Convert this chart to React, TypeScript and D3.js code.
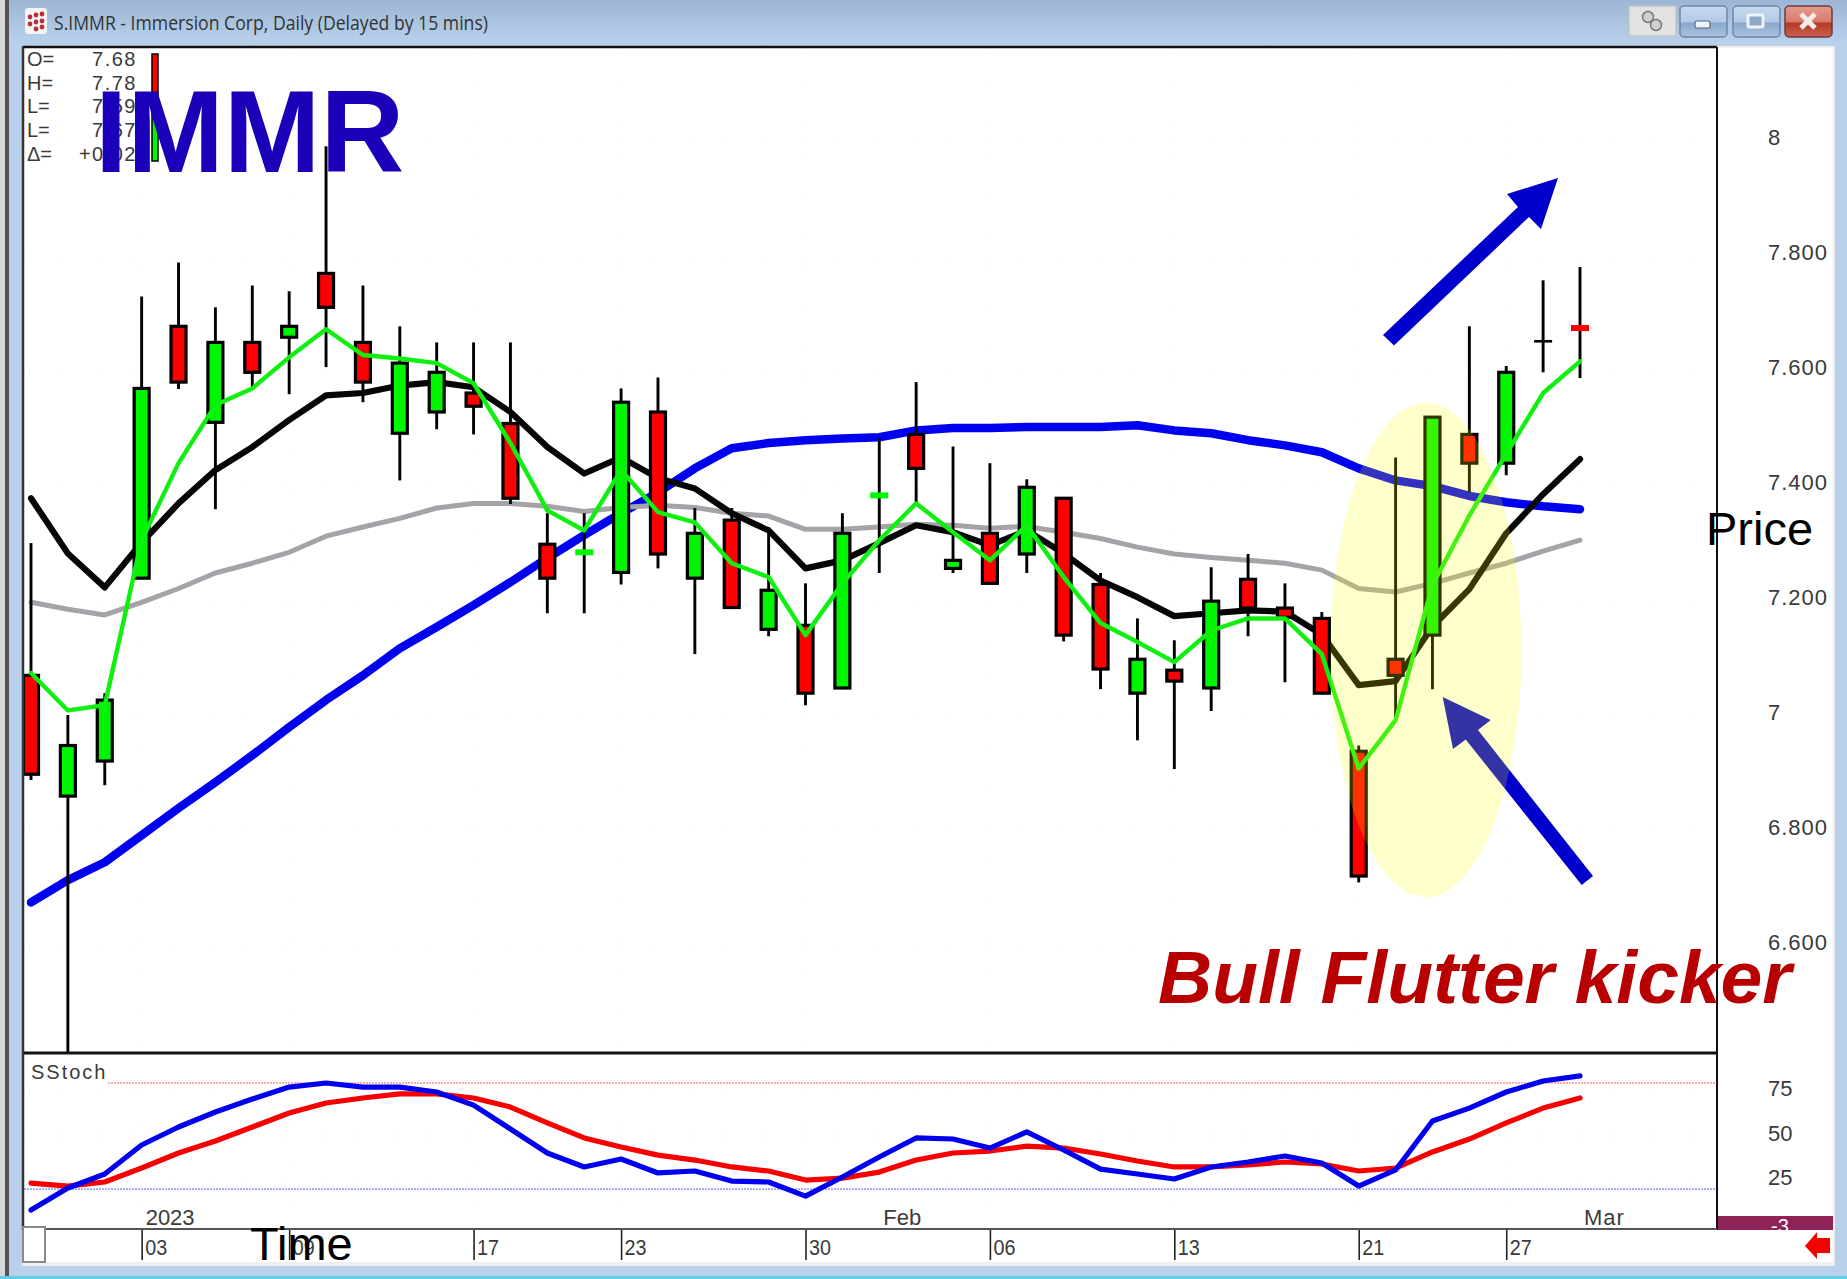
import React, { useEffect, useRef } from "react";
import * as d3 from "d3";

const W = 1847;
const H = 1279;

// trading days, Dec 28 2022 -> Mar 1 2023
const days = [
  "12-28", "12-29", "12-30", "01-03", "01-04", "01-05", "01-06", "01-09", "01-10", "01-11", "01-12",
  "01-13", "01-17", "01-18", "01-19", "01-20", "01-23", "01-24", "01-25", "01-26", "01-27", "01-30",
  "01-31", "02-01", "02-02", "02-03", "02-06", "02-07", "02-08", "02-09", "02-10", "02-13", "02-14",
  "02-15", "02-16", "02-17", "02-21", "02-22", "02-23", "02-24", "02-27", "02-28", "03-01",
];

const opens = [
  7.071, 6.861, 6.922, 7.24, 7.678, 7.511, 7.65, 7.659, 7.77, 7.65, 7.492,
  7.529, 7.562, 7.509, 7.299, 7.282, 7.25, 7.529, 7.24, 7.341, 7.151, 7.158,
  7.049, 7.381, 7.49, 7.257, 7.318, 7.282, 7.379, 7.229, 7.04, 7.08, 7.049,
  7.238, 7.188, 7.17, 6.939, 7.099, 7.141, 7.49, 7.44, 7.652, 7.678,
];
const highs = [
  7.301, 7.002, 7.04, 7.73, 7.789, 7.711, 7.749, 7.739, 7.991, 7.749, 7.678,
  7.65, 7.65, 7.65, 7.353, 7.353, 7.57, 7.589, 7.362, 7.362, 7.329, 7.231,
  7.353, 7.483, 7.581, 7.469, 7.44, 7.412, 7.379, 7.249, 7.17, 7.132, 7.259,
  7.282, 7.231, 7.181, 6.949, 7.45, 7.52, 7.678, 7.609, 7.758, 7.781,
];
const lows = [
  6.889, 6.4, 6.88, 7.24, 7.569, 7.36, 7.572, 7.56, 7.607, 7.546, 7.41,
  7.499, 7.49, 7.369, 7.179, 7.179, 7.229, 7.257, 7.108, 7.189, 7.139, 7.019,
  7.049, 7.249, 7.372, 7.249, 7.231, 7.249, 7.13, 7.047, 6.958, 6.908, 7.009,
  7.139, 7.059, 7.04, 6.711, 6.995, 7.047, 7.389, 7.419, 7.598, 7.588,
];
const closes = [
  6.899, 6.949, 7.028, 7.57, 7.581, 7.65, 7.598, 7.678, 7.711, 7.581, 7.614,
  7.598, 7.539, 7.379, 7.24, 7.288, 7.546, 7.282, 7.318, 7.189, 7.219, 7.04,
  7.318, 7.387, 7.431, 7.271, 7.231, 7.398, 7.141, 7.082, 7.099, 7.061, 7.2,
  7.188, 7.172, 7.04, 6.722, 7.071, 7.52, 7.44, 7.598, 7.652, 7.672,
];

const maBlack = [
  7.379, 7.283, 7.224, 7.302, 7.37, 7.428, 7.468, 7.515, 7.558, 7.562, 7.575,
  7.581, 7.572, 7.529, 7.468, 7.422, 7.45, 7.414, 7.396, 7.353, 7.323, 7.257,
  7.271, 7.301, 7.332, 7.32, 7.297, 7.323, 7.283, 7.236, 7.207, 7.174, 7.179,
  7.184, 7.182, 7.142, 7.054, 7.061, 7.156, 7.221, 7.318, 7.386, 7.447,
];
const maGrey = [
  7.198, 7.186, 7.176, 7.198, 7.222, 7.249, 7.266, 7.285, 7.313, 7.329, 7.344,
  7.362, 7.37, 7.37, 7.365, 7.356, 7.363, 7.367, 7.363, 7.353, 7.348, 7.325,
  7.325, 7.329, 7.334, 7.332, 7.327, 7.33, 7.32, 7.309, 7.294, 7.282, 7.276,
  7.271, 7.266, 7.254, 7.222, 7.216, 7.231, 7.249, 7.266, 7.287, 7.306,
];
const maBlue = [
  6.676, 6.715, 6.746, 6.793, 6.84, 6.885, 6.932, 6.981, 7.028, 7.071, 7.118,
  7.155, 7.193, 7.233, 7.275, 7.315, 7.353, 7.389, 7.431, 7.466, 7.475, 7.48,
  7.483, 7.485, 7.497, 7.501, 7.501, 7.503, 7.503, 7.503, 7.506, 7.497, 7.492,
  7.48, 7.471, 7.459, 7.431, 7.41, 7.4, 7.383, 7.372, 7.365, 7.36,
];
const maGreen = [
  7.075, 7.01, 7.019, 7.306, 7.44, 7.541, 7.57, 7.624, 7.673, 7.628, 7.622,
  7.614, 7.579, 7.475, 7.358, 7.323, 7.428, 7.355, 7.337, 7.266, 7.242, 7.141,
  7.231, 7.306, 7.37, 7.32, 7.271, 7.332, 7.242, 7.162, 7.129, 7.094, 7.149,
  7.17, 7.17, 7.108, 6.909, 6.993, 7.228, 7.349, 7.456, 7.562, 7.617,
];

const stochBlue = [
  8.1, 20.6, 28.5, 44.9, 55.1, 63.6, 70.9, 77.7, 80, 77.7, 77.7,
  74.9, 67.5, 54, 40.4, 32.5, 37, 29.1, 30.2, 24.5, 24, 16,
  26.8, 38.1, 48.9, 48.3, 43.2, 52.3, 42.1, 31.3, 28.5, 25.7, 32.5,
  35.3, 38.7, 34.7, 21.7, 30.8, 58.5, 65.8, 74.9, 81.1, 84,
];
const stochRed = [
  23.4, 21.7, 24, 31.9, 40.4, 47.2, 55.1, 63, 68.7, 71.5, 73.8,
  73.8, 71.5, 66.4, 57.4, 48.9, 43.8, 39.2, 36.4, 32.5, 30.2, 25.1,
  26.2, 29.6, 36.4, 40.4, 41.5, 44.3, 43.2, 39.8, 35.9, 32.5, 32.5,
  33.6, 35.3, 34.2, 30.2, 31.9, 41, 48.3, 57.4, 65.8, 71.5,
];

const priceTicks = [8, 7.8, 7.6, 7.4, 7.2, 7, 6.8, 6.6];
const stochTicks = [75, 50, 25];
const dayTicks = ["01-03", "01-09", "01-17", "01-23", "01-30", "02-06", "02-13", "02-21", "02-27"];
const dayTickLabels = ["03", "09", "17", "23", "30", "06", "13", "21", "27"];
const monthDays = ["01-03", "02-01", "03-01"];
const monthLabels = ["2023", "Feb", "Mar"];
const quoteNames = ["O=", "H=", "L=", "L=", "Δ="];
const quoteValues = ["7.68", "7.78", "7.59", "7.67", "+0.02"];

const SANS = "'Liberation Sans', Arial, sans-serif";
const INK = "#3a3a3a";

const App = () => {
  const ref = useRef<SVGSVGElement>(null);

  useEffect(() => {
    document.body.style.margin = "0";
    const svg = d3.select(ref.current);
    svg.selectAll("*").remove();

    const left = 24, right = 1717, top = 48, split = 1052, bottom = 1229;

    const x = d3.scalePoint<string>().domain(days).range([31, 1580]);
    const y = d3.scaleLinear().domain([8.162, 6.416]).range([top, split]);
    const ys = d3.scaleLinear().domain([96.4, -2.6]).range([1054, bottom]);

    const defs = svg.append("defs");
    const grad = defs.append("linearGradient").attr("id", "bar").attr("x2", 0).attr("y2", 1);
    grad.append("stop").attr("offset", 0).attr("stop-color", "#9cb6d4");
    grad.append("stop").attr("offset", 1).attr("stop-color", "#bad2ec");
    defs.append("clipPath").attr("id", "pricePane").append("rect")
      .attr("x", left).attr("y", top).attr("width", right - left).attr("height", split - top);
    const redBtn = defs.append("linearGradient").attr("id", "closeBtn").attr("x2", 0).attr("y2", 1);
    redBtn.append("stop").attr("offset", 0).attr("stop-color", "#e59a8e");
    redBtn.append("stop").attr("offset", 0.5).attr("stop-color", "#d77a6c");
    redBtn.append("stop").attr("offset", 0.55).attr("stop-color", "#b83a24");
    redBtn.append("stop").attr("offset", 1).attr("stop-color", "#c8604e");
    const blueBtn = defs.append("linearGradient").attr("id", "winBtn").attr("x2", 0).attr("y2", 1);
    blueBtn.append("stop").attr("offset", 0).attr("stop-color", "#c6daf0");
    blueBtn.append("stop").attr("offset", 0.5).attr("stop-color", "#b4cbe6");
    blueBtn.append("stop").attr("offset", 0.55).attr("stop-color", "#8aa8cb");
    blueBtn.append("stop").attr("offset", 1).attr("stop-color", "#a9c3e1");

    // window frame
    svg.append("rect").attr("width", W).attr("height", H).attr("fill", "#b9d0ea");
    svg.append("rect").attr("width", W).attr("height", 46).attr("fill", "url(#bar)");
    svg.append("rect").attr("x", 0).attr("width", 5).attr("height", H).attr("fill", "#d8d8d8");
    svg.append("rect").attr("x", 5).attr("width", 4).attr("height", H).attr("fill", "#555");
    svg.append("rect").attr("x", 0).attr("y", 1276).attr("width", W).attr("height", 3).attr("fill", "#5fcfe6");
    svg.append("rect").attr("x", 22).attr("y", 46).attr("width", 1813).attr("height", 1220).attr("fill", "#eeeeee");
    svg.append("rect").attr("x", left).attr("y", top).attr("width", 1809).attr("height", bottom - top + 33).attr("fill", "#fff");

    // title bar
    svg.append("rect").attr("x", 25).attr("y", 8).attr("width", 22).attr("height", 26).attr("rx", 3).attr("fill", "#f4f4f4");
    [[30, 17], [36, 15], [42, 14], [30, 24], [36, 22], [42, 21], [36, 29], [42, 27]].forEach(([cx, cy]) => {
      svg.append("circle").attr("cx", cx).attr("cy", cy).attr("r", 2.4).attr("fill", "#b5303c");
    });
    svg.append("text").attr("x", 54).attr("y", 30)
      .attr("font-family", "'Open Sans', sans-serif").attr("font-size", 20).attr("fill", "#333")
      .attr("textLength", 434).attr("lengthAdjust", "spacingAndGlyphs")
      .text("S.IMMR - Immersion Corp, Daily (Delayed by 15 mins)");

    svg.append("rect").attr("x", 1629).attr("y", 6).attr("width", 47).attr("height", 30).attr("fill", "#e2e2e2").attr("stroke", "#bdbdbd");
    const gear = svg.append("g").attr("fill", "#d0d0d0").attr("stroke", "#777").attr("stroke-width", 1.5);
    gear.append("circle").attr("cx", 1648).attr("cy", 17).attr("r", 5.5);
    gear.append("circle").attr("cx", 1656).attr("cy", 25).attr("r", 5.5);
    [[1680, "url(#winBtn)"], [1733, "url(#winBtn)"], [1785, "url(#closeBtn)"]].forEach(([bx, f]) => {
      svg.append("rect").attr("x", bx as number).attr("y", 6).attr("width", 47).attr("height", 31).attr("rx", 4)
        .attr("fill", f as string).attr("stroke", f === "url(#closeBtn)" ? "#6b3a4a" : "#6f86a6").attr("stroke-width", 1.5);
    });
    svg.append("rect").attr("x", 1695).attr("y", 21).attr("width", 15).attr("height", 7).attr("rx", 1.5).attr("fill", "#eef3f9").attr("stroke", "#55657c").attr("stroke-width", 1.2);
    svg.append("rect").attr("x", 1748).attr("y", 15).attr("width", 15).attr("height", 12).attr("rx", 1.5).attr("fill", "#8fa6c4").attr("stroke", "#eef3f9").attr("stroke-width", 3);
    svg.append("path").attr("d", "M1801,14 L1815,28 M1815,14 L1801,28").attr("stroke", "#f4ece6").attr("stroke-width", 5);

    // faint dotted grid
    const grid = svg.append("g").attr("stroke", "#ececec").attr("stroke-width", 1).attr("stroke-dasharray", "1 36");
    priceTicks.forEach(v => grid.append("line").attr("x1", left).attr("x2", right).attr("y1", y(v)).attr("y2", y(v)));
    stochTicks.forEach(v => grid.append("line").attr("x1", left).attr("x2", right).attr("y1", ys(v)).attr("y2", ys(v)));
    dayTicks.forEach(d => {
      grid.append("line").attr("x1", x(d)!).attr("x2", x(d)!).attr("y1", top).attr("y2", split);
      grid.append("line").attr("x1", x(d)!).attr("x2", x(d)!).attr("y1", split).attr("y2", bottom);
    });

    const pane = svg.append("g").attr("clip-path", "url(#pricePane)");
    const priceLine = d3.line<number>().x((_, i) => x(days[i])!).y(d => y(d));
    const addLine = (g: any, vals: number[], color: string, width: number, gen = priceLine) =>
      g.append("path").attr("d", gen(vals)).attr("fill", "none").attr("stroke", color)
        .attr("stroke-width", width).attr("stroke-linejoin", "round").attr("stroke-linecap", "round");

    addLine(pane, maBlue, "#0000f0", 8.5);
    addLine(pane, maGrey, "#a5a3a8", 5);
    addLine(pane, maBlack, "#050505", 6.2);

    // candles
    const candles = pane.selectAll("g.candle").data(days).join("g").attr("class", "candle");
    candles.append("line")
      .attr("x1", d => x(d)!).attr("x2", d => x(d)!)
      .attr("y1", (_, i) => y(highs[i])).attr("y2", (_, i) => y(lows[i]))
      .attr("stroke", "#000").attr("stroke-width", 2.9);
    candles.append("rect")
      .attr("x", (d, i) => x(d)! - (Math.abs(opens[i] - closes[i]) < 0.012 ? 9 : 7.5))
      .attr("width", (_, i) => (Math.abs(opens[i] - closes[i]) < 0.012 ? 18 : 15))
      .attr("y", (_, i) => {
        if (Math.abs(opens[i] - closes[i]) < 0.012) return y((opens[i] + closes[i]) / 2) - (opens[i] === closes[i] ? 1.3 : 3);
        return y(Math.max(opens[i], closes[i]));
      })
      .attr("height", (_, i) => {
        if (Math.abs(opens[i] - closes[i]) < 0.012) return opens[i] === closes[i] ? 2.6 : 6;
        return Math.abs(y(opens[i]) - y(closes[i]));
      })
      .attr("fill", (_, i) => (closes[i] > opens[i] ? "#00f500" : closes[i] < opens[i] ? "#ff0000" : "#000"))
      .attr("stroke", (_, i) => (Math.abs(opens[i] - closes[i]) < 0.012 ? "none" : "#000"))
      .attr("stroke-width", 3.2);

    addLine(pane, maGreen, "#10f010", 4.4);

    // stochastic pane
    svg.append("line").attr("x1", 108).attr("x2", right).attr("y1", ys(80)).attr("y2", ys(80))
      .attr("stroke", "#ff5a5a").attr("stroke-width", 1).attr("stroke-dasharray", "2 1");
    svg.append("line").attr("x1", left).attr("x2", right).attr("y1", ys(20)).attr("y2", ys(20))
      .attr("stroke", "#5a5aff").attr("stroke-width", 1).attr("stroke-dasharray", "2 1");
    const stochLine = d3.line<number>().x((_, i) => x(days[i])!).y(d => ys(d));
    addLine(svg, stochRed, "#f80000", 5.2, stochLine);
    addLine(svg, stochBlue, "#0000f0", 5.2, stochLine);

    // axes
    const styleAxis = (g: any, size: number) => {
      g.select(".domain").remove();
      g.selectAll(".tick line").remove();
      g.selectAll("text").attr("font-family", SANS).attr("font-size", size).attr("fill", INK);
    };
    svg.append("g").attr("transform", "translate(1768,-4)")
      .call(d3.axisRight(y).tickValues(priceTicks).tickSize(0).tickPadding(0)
        .tickFormat((d: any) => (Number.isInteger(d) ? String(d) : d3.format(".3f")(d))))
      .call(styleAxis, 22)
      .selectAll("text").attr("letter-spacing", 1);
    svg.append("g").attr("transform", "translate(1768,-3)")
      .call(d3.axisRight(ys).tickValues(stochTicks).tickSize(0).tickPadding(0))
      .call(styleAxis, 22);

    const timeAxis = svg.append("g").attr("transform", `translate(0,${bottom})`)
      .call(d3.axisBottom(x).tickValues(dayTicks).tickSize(31).tickPadding(0)
        .tickFormat((d: any) => dayTickLabels[dayTicks.indexOf(d)]));
    timeAxis.select(".domain").remove();
    timeAxis.selectAll(".tick line").attr("stroke", "#222").attr("stroke-width", 1.6);
    timeAxis.selectAll("text").attr("font-family", SANS).attr("font-size", 22).attr("fill", INK)
      .attr("text-anchor", "start").attr("x", 3).attr("y", 7).attr("dy", "0.85em").attr("textLength", 22)
      .attr("lengthAdjust", "spacingAndGlyphs");

    monthDays.forEach((d, i) => {
      svg.append("text").attr("x", x(d)! + 4).attr("y", 1225)
        .attr("font-family", SANS).attr("font-size", 22).attr("fill", INK)
        .attr("letter-spacing", i === 2 ? 1 : 0).text(monthLabels[i]);
    });
    svg.append("text").attr("x", 31).attr("y", 1079).attr("font-family", SANS).attr("font-size", 20)
      .attr("fill", INK).attr("letter-spacing", 2).text("SStoch");

    // frame lines
    const frame = svg.append("g").attr("stroke", "#111").attr("fill", "none");
    frame.append("line").attr("x1", left - 1).attr("x2", right).attr("y1", top - 1).attr("y2", top - 1).attr("stroke-width", 2.5);
    frame.append("line").attr("x1", left - 1).attr("x2", left - 1).attr("y1", top - 2).attr("y2", bottom + 1).attr("stroke-width", 2.5).attr("stroke", "#333");
    frame.append("line").attr("x1", right).attr("x2", right).attr("y1", top - 1).attr("y2", bottom + 1).attr("stroke-width", 2);
    frame.append("line").attr("x1", left).attr("x2", right).attr("y1", split + 1).attr("y2", split + 1).attr("stroke-width", 3.2);
    frame.append("line").attr("x1", left).attr("x2", right).attr("y1", bottom).attr("y2", bottom).attr("stroke-width", 2).attr("stroke", "#555");

    // time axis corner box, status cell, scroll arrow
    svg.append("rect").attr("x", 23).attr("y", 1227).attr("width", 22).attr("height", 35).attr("fill", "#fff").attr("stroke", "#8a8a8a").attr("stroke-width", 2);
    svg.append("rect").attr("x", 1718).attr("y", 1216).attr("width", 115).attr("height", 14).attr("fill", "#8f2257");
    svg.append("svg").attr("x", 1718).attr("y", 1216).attr("width", 115).attr("height", 14)
      .append("text").attr("x", 62).attr("y", 17).attr("font-family", SANS).attr("font-size", 20)
      .attr("fill", "#fff").attr("text-anchor", "middle").text("-3");
    svg.append("path").attr("d", "M1805,1246 L1817,1232 L1817,1238 L1830,1238 L1830,1253 L1817,1253 L1817,1259 Z").attr("fill", "#f40000");

    // quote box
    const quote = svg.append("g").attr("font-family", SANS).attr("font-size", 20).attr("fill", INK);
    quoteNames.forEach((n, i) => {
      quote.append("text").attr("x", 27).attr("y", 66 + i * 23.7).text(n);
      quote.append("text").attr("x", 137).attr("y", 66 + i * 23.7).attr("text-anchor", "end")
        .attr("letter-spacing", 1.5).text(quoteValues[i]);
    });
    svg.append("rect").attr("x", 152).attr("y", 54).attr("width", 6).attr("height", 58).attr("fill", "#f00").attr("stroke", "#000").attr("stroke-width", 1.5);
    svg.append("rect").attr("x", 152).attr("y", 112).attr("width", 6).attr("height", 49).attr("fill", "#00f500").attr("stroke", "#000").attr("stroke-width", 1.5);

    // annotations
    svg.append("path").attr("fill", "#0000cc")
      .attr("d", "M1558,178 L1507,194 L1518,207 L1383,335 L1394,345.5 L1529,217 L1541,229 Z");
    svg.append("path").attr("fill", "#0000cc")
      .attr("d", "M1442.7,697 L1490.7,720 L1478,730 L1593,876 L1581.7,885 L1465.7,739.5 L1453,749 Z");
    svg.append("ellipse").attr("cx", 1426).attr("cy", 650).attr("rx", 95.5).attr("ry", 247)
      .attr("fill", "#ffff00").attr("fill-opacity", 0.2);

    svg.append("text").attr("x", 95).attr("y", 172).attr("font-family", SANS).attr("font-weight", "bold")
      .attr("font-size", 116).attr("fill", "#1a00b8").text("IMMR");
    svg.append("text").attr("x", 1158).attr("y", 1003).attr("font-family", SANS).attr("font-weight", "bold")
      .attr("font-style", "italic").attr("font-size", 75).attr("fill", "#b80000").text("Bull Flutter kicker");
    svg.append("text").attr("x", 1706).attr("y", 545).attr("font-family", SANS).attr("font-size", 47)
      .attr("fill", "#000").text("Price");
    svg.append("text").attr("x", 250).attr("y", 1260).attr("font-family", SANS).attr("font-size", 47)
      .attr("fill", "#000").text("Time");
  }, []);

  return <svg ref={ref} width={W} height={H} style={{ display: "block", position: "absolute", left: 0, top: 0 }} />;
};

export default App;
